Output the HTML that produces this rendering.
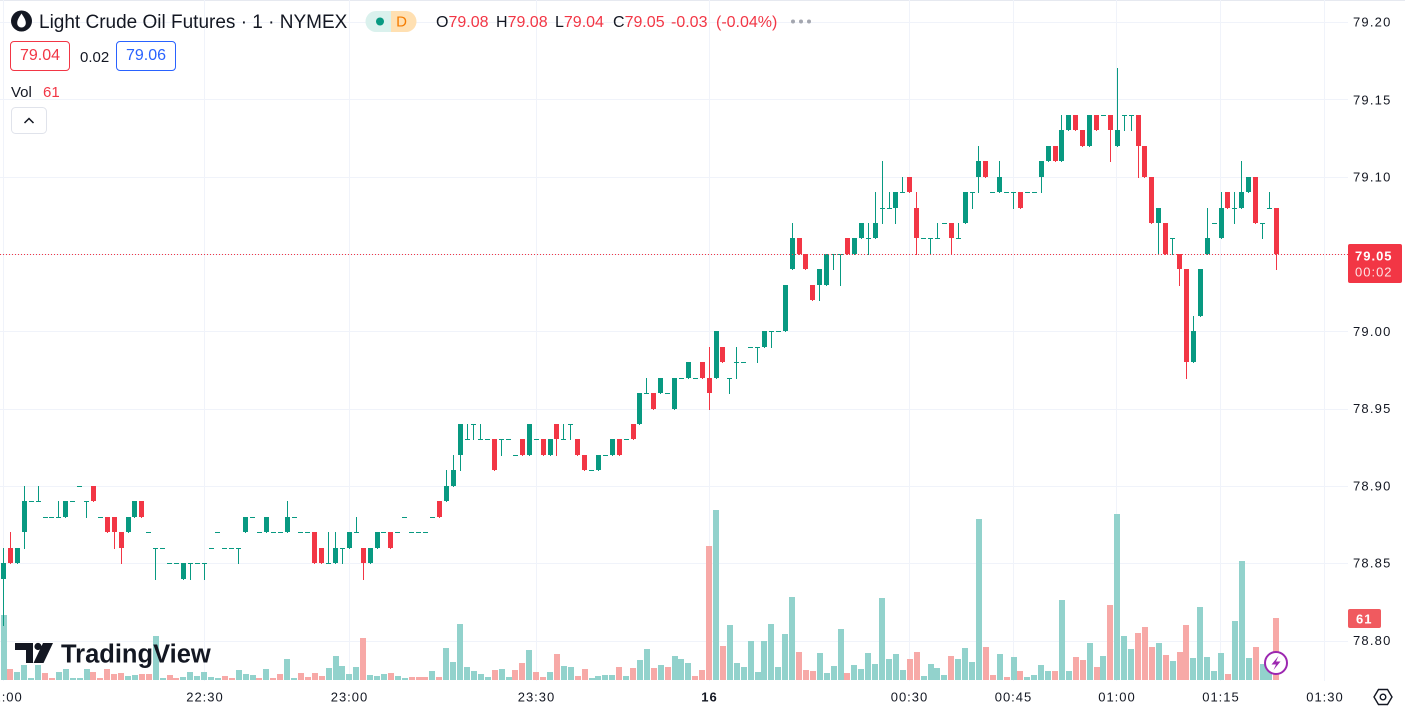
<!DOCTYPE html>
<html><head><meta charset="utf-8">
<style>
html,body{margin:0;padding:0;background:#fff;}
body{width:1405px;height:713px;overflow:hidden;position:relative;font-family:"Liberation Sans",sans-serif;color:#131722;}
svg{position:absolute;left:0;top:0;}
.t{position:absolute;white-space:nowrap;line-height:1;}
.r{color:#f23645;}
.box{position:absolute;box-sizing:border-box;height:30px;border-radius:4px;font-size:16px;line-height:28px;text-align:center;}
</style></head><body>
<svg id="c" width="1405" height="713" xmlns="http://www.w3.org/2000/svg">
  <line x1="0" y1="0.5" x2="1405" y2="0.5" stroke="#e6e9f0" stroke-width="1"/>
  <g id="grid" shape-rendering="crispEdges" stroke="#f0f3fa" stroke-width="1"></g>
  <g id="vol" shape-rendering="crispEdges"></g>
  <g id="cdl" shape-rendering="crispEdges"></g>
  <line x1="0" y1="254.5" x2="1348" y2="254.5" stroke="#f23645" stroke-width="1" stroke-dasharray="1 2"/>
  <!-- TradingView logo -->
  <g fill="#131722">
    <path d="M15 643 H33 V663 H26 V650 H15 Z"/>
    <circle cx="38" cy="646.5" r="3.6"/>
    <path d="M43 643 H53 L43.5 663 H33.5 Z"/>
    <text x="61" y="662.5" font-family="Liberation Sans, sans-serif" font-weight="bold" font-size="25.5">TradingView</text>
  </g>
  <!-- lightning icon -->
  <circle cx="1276" cy="663" r="11" fill="#fff" stroke="#9c27b0" stroke-width="2"/>
  <path d="M1278.5 656 L1271.5 664.5 H1276 L1273.5 670 L1280.5 661.5 H1276 Z" fill="#9c27b0"/>
  <!-- price axis labels -->
  <g font-family="Liberation Sans, sans-serif" font-size="13" fill="#131722" letter-spacing="1.2" dominant-baseline="central">
    <text x="1353" y="22">79.20</text>
    <text x="1353" y="100">79.15</text>
    <text x="1353" y="177">79.10</text>
    <text x="1353" y="331.5">79.00</text>
    <text x="1353" y="408.5">78.95</text>
    <text x="1353" y="486">78.90</text>
    <text x="1353" y="563">78.85</text>
    <text x="1353" y="640.5">78.80</text>
  </g>
  <rect x="1348" y="244" width="54" height="39" rx="2" fill="#f23645"/>
  <g font-family="Liberation Sans, sans-serif" font-size="13" letter-spacing="1" dominant-baseline="central" font-weight="bold">
    <text x="1355" y="256" fill="#ffffff">79.05</text>
    <text x="1355" y="272" fill="#fde3e5" font-weight="normal">00:02</text>
  </g>
  <rect x="1348" y="609" width="33" height="19" rx="2" fill="#f05a5f"/>
  <text x="1356" y="619" font-family="Liberation Sans, sans-serif" font-size="13" font-weight="bold" fill="#fff" dominant-baseline="central" letter-spacing="1">61</text>
  <!-- time axis labels -->
  <g font-family="Liberation Sans, sans-serif" font-size="13" fill="#131722" letter-spacing="1" text-anchor="middle" dominant-baseline="central">
    <text x="4" y="697">22:00</text>
    <text x="205" y="697">22:30</text>
    <text x="349.5" y="697">23:00</text>
    <text x="536.5" y="697">23:30</text>
    <text x="709.5" y="697" font-weight="bold">16</text>
    <text x="909.5" y="697">00:30</text>
    <text x="1013.5" y="697">00:45</text>
    <text x="1117" y="697">01:00</text>
    <text x="1221" y="697">01:15</text>
    <text x="1325" y="697">01:30</text>
  </g>
  <!-- settings icon -->
  <g fill="none" stroke="#131722" stroke-width="1.4">
    <path d="M1374 697 L1378.5 689.5 H1387.5 L1392 697 L1387.5 704.5 H1378.5 Z"/>
    <circle cx="1383" cy="697" r="2.8"/>
  </g>
  <!-- header icons -->
  <circle cx="21.5" cy="21" r="10.5" fill="#131722"/>
  <path d="M21.5 13.5 C18.5 18, 17.2 20.2, 17.2 23.2 A4.3 4.3 0 0 0 25.8 23.2 C25.8 20.2, 24.5 18, 21.5 13.5 Z" fill="#fff"/>
  <path d="M376 11 H391 V32 H376 A10.5 10.5 0 0 1 376 11 Z" fill="#daf1ed"/>
  <path d="M391 11 H406 A10.5 10.5 0 0 1 406 32 H391 Z" fill="#ffe0b2"/>
  <circle cx="380" cy="21.5" r="4" fill="#089981"/>
  <text x="401.5" y="22" font-family="Liberation Sans, sans-serif" font-size="15" fill="#f57c00" text-anchor="middle" dominant-baseline="central">D</text>
  <g fill="#a3a6af"><circle cx="793" cy="21.5" r="2"/><circle cx="801" cy="21.5" r="2"/><circle cx="809" cy="21.5" r="2"/></g>
  <rect x="11.5" y="107.5" width="35" height="26" rx="4" fill="#fff" stroke="#e0e3eb"/>
  <polyline points="24.5,123 29,118.5 33.5,123" fill="none" stroke="#131722" stroke-width="1.5"/>
</svg>

<div class="t" style="left:39px;top:13px;font-size:19px;">Light Crude Oil Futures · 1 · NYMEX</div>
<div class="t" style="left:436px;top:15px;font-size:16px;">O<span class="r">79.08</span></div>
<div class="t" style="left:496px;top:15px;font-size:16px;">H<span class="r">79.08</span></div>
<div class="t" style="left:555px;top:15px;font-size:16px;">L<span class="r">79.04</span></div>
<div class="t" style="left:613px;top:15px;font-size:16px;">C<span class="r">79.05</span></div>
<div class="t r" style="left:671px;top:15px;font-size:16px;">-0.03</div>
<div class="t r" style="left:716px;top:15px;font-size:16px;">(-0.04%)</div>

<div class="box" style="left:10px;top:41px;width:60px;border:1px solid #f23645;color:#f23645;">79.04</div>
<div class="t" style="left:80px;top:50px;font-size:15px;">0.02</div>
<div class="box" style="left:116px;top:41px;width:60px;border:1px solid #2962ff;color:#2962ff;">79.06</div>

<div class="t" style="left:11px;top:85px;font-size:15px;">Vol</div>
<div class="t r" style="left:43px;top:85px;font-size:15px;">61</div>

<script>
(function(){
var NS="http://www.w3.org/2000/svg";
function el(tag,attrs,parent){var e=document.createElementNS(NS,tag);for(var k in attrs)e.setAttribute(k,attrs[k]);parent.appendChild(e);return e;}
function Y(t){return 640.5 - t*15.4625;}
var grid=document.getElementById('grid');
for(var t=0;t<=40;t+=5){var y=Math.round(Y(t))+0.5;el('line',{x1:0,y1:y,x2:1348,y2:y},grid);}
[3.5,204.5,349.5,536.5,709.5,909.5,1013.5,1116.5,1220.5,1324.5].forEach(function(x){el('line',{x1:x,y1:0,x2:x,y2:681},grid);});

var C=[[4,5,6,1],[6,5,7,5],[5,6,6,5],[7,9,10,6],[9,9,9,9],[9,9,10,9],[8,8,8,8],[8,8,8,8],[8,8,9,8],[8,9,9,8],
[9,9,9,9],[10,10,10,10],[9,9,9,8],[10,9,10,9],[8,8,8,8],[8,7,8,7],[8,7,8,6],[7,6,7,5],[7,8,8,7],[8,9,9,8],
[9,8,9,8],[7,7,7,7],[6,6,6,4],[6,6,6,6],[5,5,5,5],[5,5,5,5],[4,5,5,4],[5,5,5,4],[5,5,5,5],[5,5,5,4],
[6,6,6,6],[7,7,7,7],[6,6,6,6],[6,6,6,6],[6,6,6,5],[7,8,8,7],[8,8,8,8],[7,7,7,7],[7,8,8,7],[7,7,7,7],
[7,7,7,7],[7,8,9,7],[8,8,8,8],[7,7,7,7],[7,7,7,7],[7,5,7,5],[6,5,6,5],[5,5,7,5],[5,6,7,5],[6,6,6,5],
[6,7,7,6],[7,7,8,7],[6,5,6,4],[5,6,6,5],[6,7,7,6],[7,7,7,7],[7,6,7,6],[7,7,7,7],[8,8,8,8],[7,7,7,7],
[7,7,7,7],[7,7,7,7],[8,8,8,8],[9,8,9,8],[9,10,11,9],[10,11,12,10],[12,14,14,11],[13,13,14,13],[14,14,14,13],[13,13,14,13],
[13,13,13,13],[13,11,13,11],[13,13,13,12],[13,13,13,13],[12,12,12,12],[13,12,13,12],[12,14,14,12],[13,13,13,13],[13,12,13,12],[12,13,13,12],
[14,13,14,12],[13,13,14,13],[14,14,14,13],[13,12,13,12],[12,11,12,11],[11,11,11,11],[11,12,12,11],[12,12,12,12],[12,13,13,12],[13,12,13,12],
[13,13,13,13],[14,13,14,13],[14,16,16,14],[16,16,17,16],[16,15,16,15],[16,17,17,16],[16,16,16,16],[15,17,17,15],[17,17,17,17],[17,18,18,17],
[17,17,17,17],[18,17,18,17],[17,16,19,15],[17,20,20,17],[19,18,19,18],[17,17,17,16],[18,18,19,17],[18,18,18,18],[19,19,19,19],[19,19,19,18],
[19,20,20,19],[20,20,20,19],[20,20,20,20],[20,23,23,20],[24,26,27,24],[26,25,26,25],[25,24,25,24],[23,22,23,22],[23,24,24,22],[23,25,25,23],
[25,25,25,24],[25,25,25,23],[26,25,26,25],[25,26,26,25],[26,27,27,26],[26,26,27,25],[26,27,29,26],[28,28,31,27],[28,28,29,28],[28,29,29,27],
[29,29,30,29],[30,29,30,29],[28,26,29,25],[26,26,26,26],[26,26,26,25],[26,26,27,26],[27,27,27,27],[27,26,27,25],[26,26,27,26],[27,29,29,27],
[29,29,29,28],[30,31,32,29],[31,30,31,30],[29,29,29,29],[29,30,31,29],[29,29,29,29],[29,29,29,28],[29,28,29,28],[29,29,29,29],[29,29,29,29],
[30,31,31,29],[31,32,32,31],[32,31,32,31],[31,33,34,31],[33,34,34,33],[34,33,34,33],[33,32,33,32],[32,34,34,32],[34,33,34,33],[34,34,34,34],
[34,33,34,31],[32,33,37,32],[34,34,34,33],[34,34,34,33],[34,32,34,30],[32,30,32,30],[30,27,30,27],[27,28,28,25],[27,25,27,25],[26,26,26,25],
[25,24,25,23],[24,18,24,17],[18,20,21,18],[21,24,24,21],[25,26,28,25],[27,27,27,27],[26,28,29,26],[29,28,29,28],[28,28,29,27],[28,29,31,28],
[29,30,30,29],[30,27,30,27],[27,27,27,26],[28,28,29,28],[28,25,28,24]];

var V="65g 11r 8g 15g 2g 15g 7r 2r 8g 11g 2g 2g 11g 8r 2r 11r 6r 7r 4g 5g 6r 6r 44g 2g 5r 2r 3g 8g 4g 8g 3g 2g 4r 2r 10g 6g 5g 2r 11g 2r 6r 21g 2g 7r 3r 7r 4r 12g 24g 14g 6g 13g 42r 5g 4g 6g 7r 4g 2g 3r 3r 3r 9g 3r 32g 18g 56g 13g 9g 6g 3g 10r 11g 3g 10r 17r 30g 8r 3r 8g 26r 14g 13g 4r 11r 2g 4g 5g 5g 13r 4g 12r 20g 31g 12r 15g 13r 24g 21g 17g 4r 10r 134r 170g 34r 55g 17g 13g 39g 8g 39g 56g 13g 46g 83g 28r 10r 9r 27g 7g 14g 51g 7r 15g 11g 27g 16g 82g 21g 26g 10g 21r 28r 4g 16g 12g 5g 24r 21g 32g 18g 161g 33r 5r 26g 3r 23g 9r 3g 5g 15g 9g 9r 80g 9g 23r 20r 37g 13r 24g 75r 166g 44g 31g 47r 53r 33r 37g 25r 19g 28r 55r 22g 73g 23g 9g 27g 6r 59g 119g 22g 33r 16g 10g 62r".split(" ");

var vol=document.getElementById('vol'), cdl=document.getElementById('cdl');
var SP=6.918, X0=3.5;
for(var i=0;i<V.length;i++){
  var c=X0+SP*i, h=parseInt(V[i],10), col=V[i].slice(-1)==='g'?'#92d2cc':'#f7a9a7';
  el('rect',{x:Math.round(c-3),y:680-h,width:6,height:h,fill:col},vol);
}
for(var i=0;i<C.length;i++){
  var d=C[i], c=X0+SP*i, o=d[0], cl=d[1], hi=d[2], lo=d[3];
  var col = cl>=o ? '#089981' : '#f23645';
  var bx=Math.round(c-2.5);
  var wt=Math.round(Y(hi)), wb=Math.round(Y(lo));
  if(wb-wt>0) el('rect',{x:bx+2,y:wt,width:1,height:wb-wt+1,fill:col},cdl);
  var bt=Math.round(Y(Math.max(o,cl))), bb=Math.round(Y(Math.min(o,cl)));
  var bh=Math.max(1,bb-bt);
  el('rect',{x:bx,y:bt,width:5,height:bh,fill:col},cdl);
}
})();
</script>
</body></html>
